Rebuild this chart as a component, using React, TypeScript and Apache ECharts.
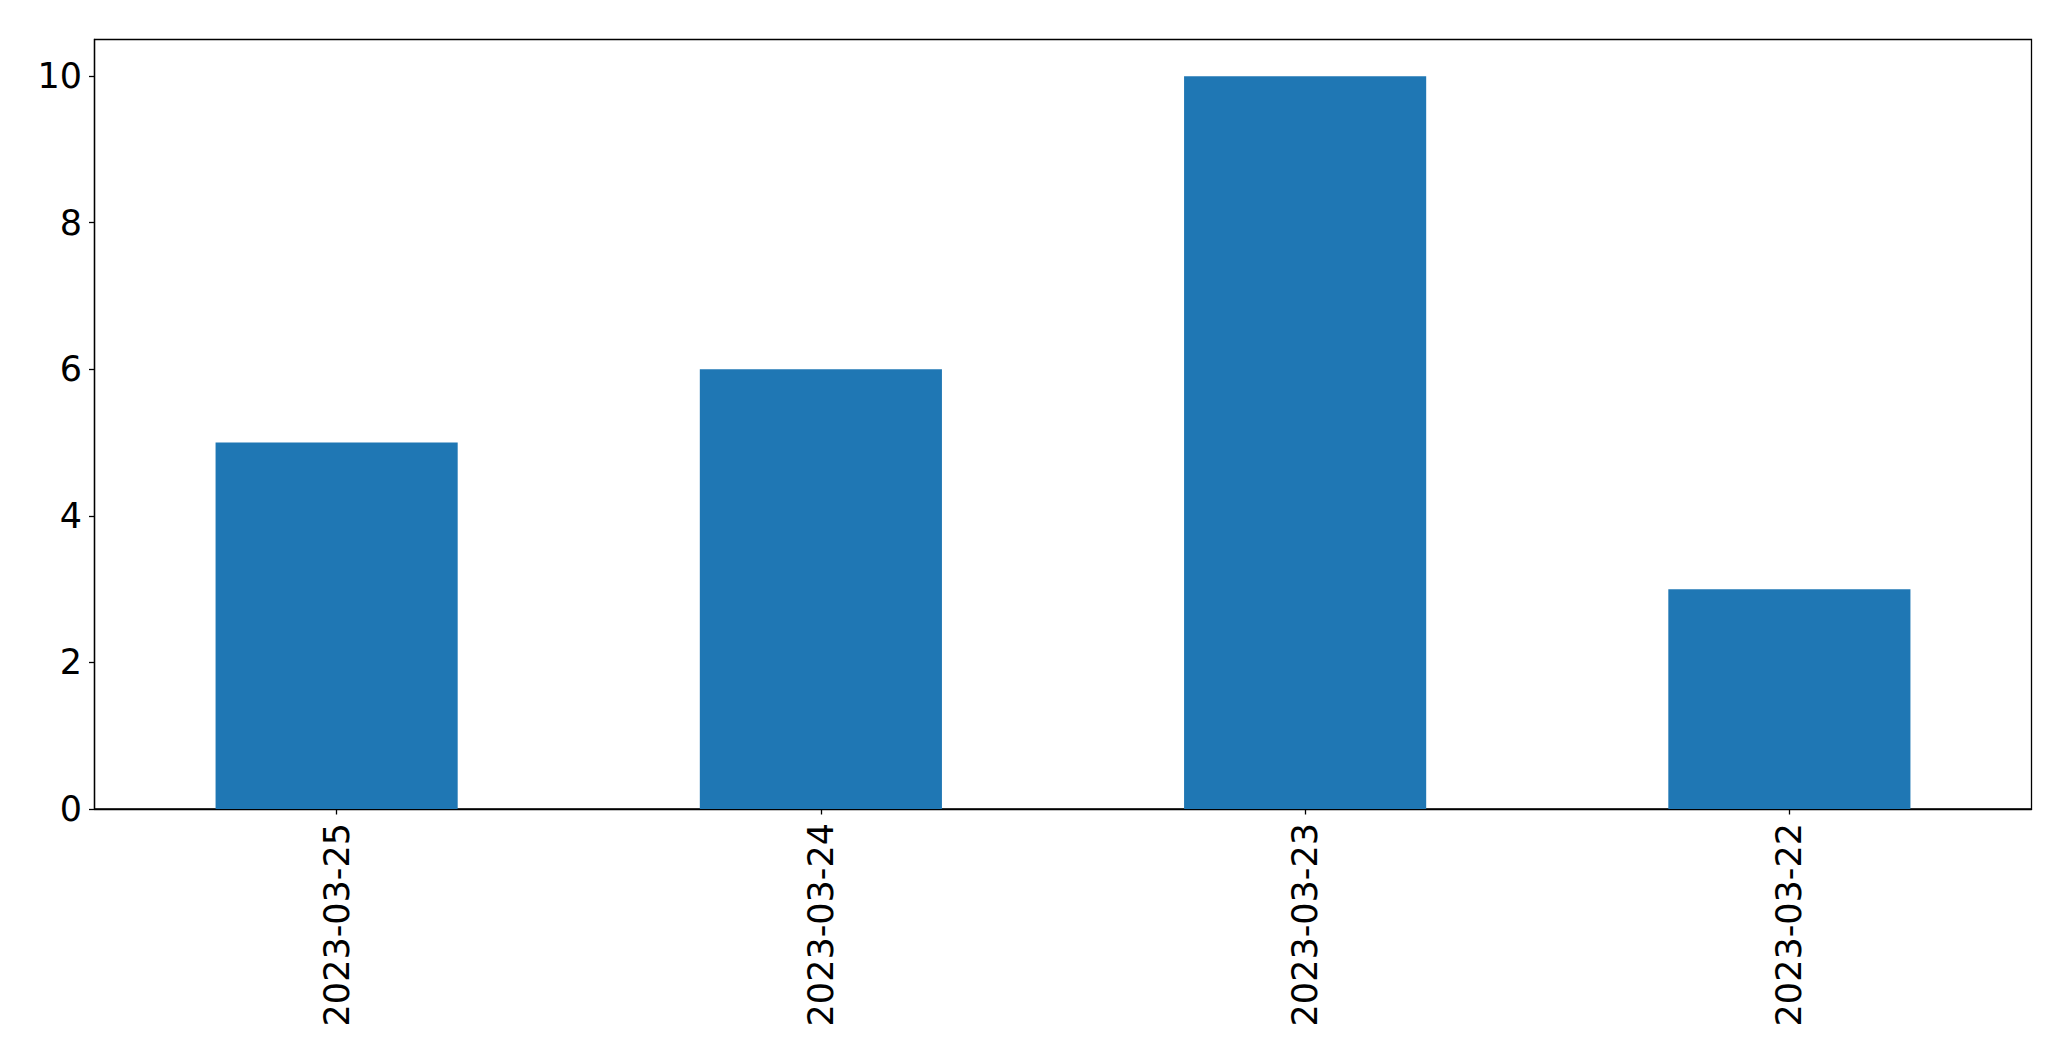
import React, { useEffect, useRef } from "react";
import * as echarts from "echarts";

const categories = ["2023-03-25", "2023-03-24", "2023-03-23", "2023-03-22"];
const values = [5, 6, 10, 3];
const yTicks = [0, 2, 4, 6, 8, 10];

export default function App() {
  const ref = useRef<HTMLDivElement>(null);
  useEffect(() => {
    if (!ref.current) return;
    const chart = echarts.init(ref.current, null, { renderer: "svg" });
    const font = "DejaVu Sans";
    chart.setOption({
      animation: false,
      backgroundColor: "#ffffff",
      grid: {
        left: 94.5,
        right: 39.5,
        top: 39.5,
        bottom: 252,
        show: true,
        borderColor: "#000",
        borderWidth: 1.3,
        backgroundColor: "transparent",
      },
      xAxis: {
        type: "category",
        data: categories,
        boundaryGap: true,
        axisLine: { show: true, lineStyle: { color: "#000", width: 1.3 } },
        axisTick: { show: true, alignWithLabel: true, length: 5.5, lineStyle: { color: "#000", width: 1.3 } },
        axisLabel: {
          rotate: 90,
          margin: 14,
          color: "#000",
          fontFamily: font,
          fontSize: 35,
        },
        splitLine: { show: false },
      },
      yAxis: {
        type: "value",
        min: 0,
        max: 10.5,
        interval: 2,
        axisLine: { show: true, lineStyle: { color: "#000", width: 1.3 } },
        axisTick: { show: true, length: 5.5, customValues: yTicks, lineStyle: { color: "#000", width: 1.3 } },
        axisLabel: {
          margin: 12.5,
          color: "#000",
          fontFamily: font,
          fontSize: 35,
          customValues: yTicks,
        },
        splitLine: { show: false },
      },
      series: [
        {
          type: "bar",
          data: values,
          barWidth: "50%",
          itemStyle: { color: "#1f77b4" },
        },
      ],
    });
    return () => chart.dispose();
  }, []);
  return (
    <div
      ref={ref}
      style={{ position: "fixed", left: 0, top: 0, width: 2071, height: 1061, background: "#fff" }}
    />
  );
}
